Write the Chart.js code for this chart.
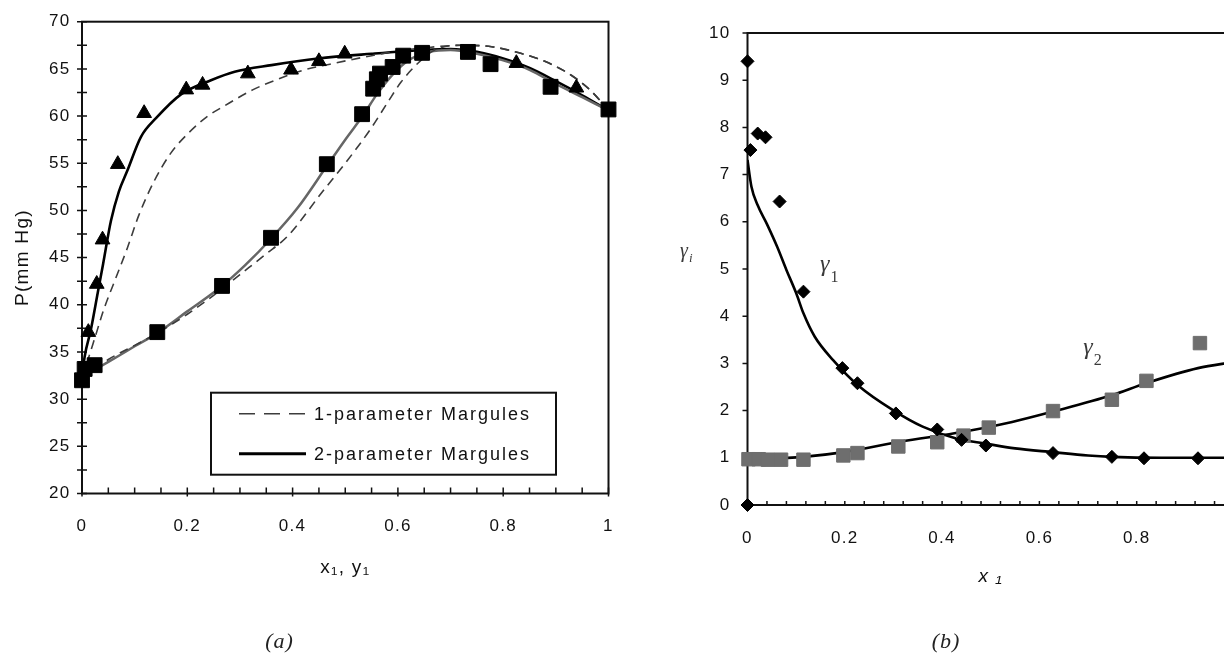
<!DOCTYPE html>
<html>
<head>
<meta charset="utf-8">
<title>Margules fits: P-x-y and activity coefficients</title>
<script src="https://cdn.jsdelivr.net/npm/chart.js@4.4.1/dist/chart.umd.min.js"></script>
<style>
  html, body { margin: 0; padding: 0; background: #fff; overflow: hidden; }
  #wrap { position: relative; width: 1224px; height: 656px; overflow: hidden; }
  #boxA { position: absolute; left: 0; top: 0; }
  #boxB { position: absolute; left: 640px; top: 0; }
</style>
</head>
<body>
<div id="wrap">
  <div id="boxA"><canvas id="chartA" width="640" height="656"></canvas></div>
  <div id="boxB"><canvas id="chartB" width="640" height="656"></canvas></div>
</div>
<script>
// ---- panel (a): P vs x1, y1 ----
// measured liquid (x1) points, squares
const liqX1 = [0, 0.005, 0.024, 0.143, 0.266, 0.359, 0.465, 0.532, 0.553, 0.56, 0.566, 0.59, 0.61, 0.646, 0.733, 0.776, 0.89, 1.0];
const liqP  = [32.0, 33.2, 33.6, 37.1, 42.0, 47.1, 54.9, 60.2, 62.9, 63.9, 64.5, 65.2, 66.4, 66.7, 66.8, 65.5, 63.1, 60.7];
// measured vapour (y1) points, triangles
const vapY1 = [0.012, 0.028, 0.039, 0.068, 0.118, 0.198, 0.229, 0.315, 0.397, 0.45, 0.499, 0.825, 0.939];
const vapP  = [37.1, 42.2, 46.9, 54.9, 60.3, 62.8, 63.3, 64.5, 64.9, 65.8, 66.6, 65.6, 63.0];

// 1-parameter Margules (dashed)
const m1DewY1 = [0, 0.012, 0.025, 0.042, 0.064, 0.086, 0.108, 0.137, 0.169, 0.204, 0.239, 0.271, 0.325, 0.372, 0.423, 0.471, 0.55, 0.6, 0.663, 0.72, 0.778, 0.83, 0.879, 0.93, 0.968, 1];
const m1DewP  = [32.3, 34.3, 36.6, 39.6, 42.8, 46.0, 49.5, 53.1, 56.1, 58.3, 60.0, 61.1, 62.8, 63.9, 64.9, 65.5, 66.4, 66.9, 67.3, 67.5, 67.35, 66.7, 65.8, 64.3, 62.6, 60.6];
const m1BubX1 = [0, 0.05, 0.1, 0.143, 0.2, 0.25, 0.3, 0.35, 0.391, 0.457, 0.5, 0.549, 0.58, 0.606, 0.638, 0.67, 0.72, 0.778, 0.83, 0.879, 0.93, 0.968, 1];
const m1BubP  = [32.3, 34.2, 35.7, 37.0, 39.0, 41.0, 43.2, 45.4, 47.3, 52.0, 55.0, 58.7, 61.4, 63.6, 65.6, 67.0, 67.5, 67.35, 66.7, 65.8, 64.3, 62.6, 60.6];

// 2-parameter Margules (solid)
const m2DewY1 = [0, 0.005, 0.017, 0.03, 0.04, 0.055, 0.07, 0.086, 0.112, 0.141, 0.188, 0.245, 0.29, 0.36, 0.448, 0.55, 0.65, 0.7, 0.75, 0.8, 0.85, 0.9, 0.95, 1];
const m2DewP  = [32.3, 34.5, 37.4, 41.3, 44.3, 48.9, 52.0, 54.2, 57.8, 59.8, 62.3, 63.8, 64.7, 65.4, 66.1, 66.6, 67.0, 67.1, 66.8, 66.1, 65.1, 63.7, 62.2, 60.6];
const m2BubX1 = [0, 0.03, 0.07, 0.1, 0.143, 0.2, 0.266, 0.31, 0.359, 0.41, 0.465, 0.5, 0.533, 0.56, 0.59, 0.62, 0.66, 0.7, 0.75, 0.8, 0.85, 0.9, 0.95, 1];
const m2BubP  = [32.3, 33.3, 34.6, 35.6, 37.0, 39.3, 42.0, 44.2, 47.0, 50.3, 54.7, 57.5, 60.0, 62.3, 64.4, 65.9, 66.8, 67.0, 66.6, 65.9, 64.9, 63.4, 62.0, 60.6];

// ---- panel (b): activity coefficients vs x1 ----
const g1X = [0, 0, 0.006, 0.021, 0.037, 0.066, 0.115, 0.195, 0.226, 0.305, 0.39, 0.44, 0.49, 0.628, 0.749, 0.815, 0.926];
const g1  = [0, 9.4, 7.52, 7.87, 7.79, 6.43, 4.52, 2.9, 2.58, 1.94, 1.6, 1.38, 1.26, 1.1, 1.02, 0.99, 0.99];
const g2X = [0.002, 0.023, 0.042, 0.069, 0.115, 0.197, 0.226, 0.31, 0.39, 0.444, 0.496, 0.628, 0.749, 0.82, 0.93];
const g2  = [0.97, 0.97, 0.96, 0.96, 0.96, 1.05, 1.1, 1.24, 1.33, 1.47, 1.64, 1.99, 2.23, 2.63, 3.43];

const fit1X = [0, 0.008, 0.021, 0.04, 0.061, 0.08, 0.1, 0.115, 0.138, 0.176, 0.23, 0.299, 0.36, 0.429, 0.49, 0.55, 0.628, 0.7, 0.749, 0.85, 1];
const fit1  = [7.31, 6.75, 6.35, 5.95, 5.47, 4.98, 4.49, 4.06, 3.57, 3.07, 2.51, 2.01, 1.66, 1.41, 1.3, 1.2, 1.12, 1.05, 1.02, 1.0, 1.0];
const fit2X = [0, 0.115, 0.198, 0.314, 0.444, 0.544, 0.628, 0.75, 0.819, 0.926, 1];
const fit2  = [0.96, 1.02, 1.12, 1.34, 1.55, 1.76, 1.98, 2.33, 2.58, 2.9, 3.03];

const SANS = '"Liberation Sans", Arial, Helvetica, sans-serif';
const SERIF = '"Liberation Serif", "Times New Roman", serif';

Chart.defaults.font.family = SANS;
Chart.defaults.font.size = 17;
Chart.defaults.color = '#111';

function pts(xs, ys) {
  return xs.map((x, i) => ({ x: x, y: ys[i] }));
}

function onStep(v, step) {
  const r = v / step;
  return Math.abs(r - Math.round(r)) < 1e-6;
}

// frame, tick marks, a bit of letter spacing like the scanned figure
const frame = {
  id: 'frame',
  beforeDraw(chart) {
    chart.ctx.letterSpacing = '1.3px';
  },
  beforeDatasetsDraw(chart, args, o) {
    const { ctx, chartArea: a, scales: { x, y } } = chart;
    ctx.save();
    ctx.strokeStyle = '#111';
    ctx.beginPath();
    x.ticks.forEach(t => {
      const px = x.getPixelForValue(t.value);
      const major = onStep(t.value, o.xMajor);
      ctx.moveTo(px, a.bottom + (major ? o.xOut : 0));
      ctx.lineTo(px, a.bottom - o.xIn);
    });
    y.ticks.forEach(t => {
      const py = y.getPixelForValue(t.value);
      ctx.moveTo(a.left - o.yOut, py);
      ctx.lineTo(a.left + o.yIn, py);
    });
    ctx.lineWidth = 1.5;
    ctx.stroke();
    ctx.lineWidth = 2;
    ctx.strokeRect(a.left, a.top, a.right - a.left, a.bottom - a.top);
    ctx.restore();
  }
};

// "(a)" / "(b)" under each panel
const caption = {
  id: 'caption',
  afterDraw(chart, args, o) {
    const { ctx, chartArea: a } = chart;
    ctx.save();
    ctx.letterSpacing = '1px';
    ctx.font = 'italic 22px ' + SERIF;
    ctx.fillStyle = '#222';
    ctx.textAlign = 'center';
    ctx.textBaseline = 'middle';
    ctx.fillText(o.text, a.left + o.dx, o.y);
    ctx.restore();
  }
};

// boxed legend inside panel (a)
const boxLegend = {
  id: 'boxLegend',
  afterDatasetsDraw(chart, args, o) {
    if (!o.items) return;
    const { ctx, chartArea: a } = chart;
    const L = a.left + o.left, T = a.top + o.top;
    ctx.save();
    ctx.fillStyle = '#fff';
    ctx.fillRect(L, T, o.width, o.height);
    ctx.lineWidth = 2;
    ctx.strokeStyle = '#111';
    ctx.strokeRect(L, T, o.width, o.height);
    o.items.forEach((it, i) => {
      const ds = chart.data.datasets[it.index];
      const yy = T + o.rowTop + i * o.rowGap;
      ctx.beginPath();
      ctx.setLineDash(it.dash || []);
      ctx.strokeStyle = ds.borderColor;
      ctx.lineWidth = it.width;
      ctx.moveTo(L + 28, yy);
      ctx.lineTo(L + 95, yy);
      ctx.stroke();
      ctx.setLineDash([]);
      ctx.fillStyle = '#111';
      ctx.font = '18px ' + SANS;
      ctx.letterSpacing = '2px';
      ctx.textAlign = 'left';
      ctx.textBaseline = 'middle';
      ctx.fillText(ds.label, L + 103, yy + 1);
    });
    ctx.restore();
  }
};

function drawGamma(ctx, x, y, sub, size, subItalic, subDrop) {
  ctx.font = 'italic ' + size + 'px ' + SERIF;
  ctx.textAlign = 'left';
  ctx.textBaseline = 'alphabetic';
  ctx.fillText('γ', x, y);
  const w = ctx.measureText('γ').width;
  ctx.font = (subItalic ? 'italic ' : '') + Math.round(size * 0.66) + 'px ' + SERIF;
  ctx.fillText(sub, x + w + 1, y + subDrop);
}

// gamma labels of panel (b)
const gammaText = {
  id: 'gammaText',
  afterDatasetsDraw(chart, args, o) {
    if (!o.items) return;
    const { ctx, chartArea: a, scales: { x, y } } = chart;
    ctx.save();
    ctx.letterSpacing = '0px';
    ctx.fillStyle = '#3a3a3a';
    o.items.forEach(it => {
      drawGamma(ctx, x.getPixelForValue(it.x), y.getPixelForValue(it.y), it.sub, 24, false, 11);
    });
    drawGamma(ctx, a.left + o.titleDx, a.top + o.titleDy, 'i', 20, true, 5);
    ctx.restore();
  }
};

const tickFmt = v => String(Math.round(v * 10) / 10);

const chartA = new Chart(document.getElementById('chartA'), {
  type: 'scatter',
  data: {
    datasets: [
      { label: 'P-x1 data', data: pts(liqX1, liqP), pointStyle: 'rect', pointRadius: 10.5,
        backgroundColor: '#000', borderColor: '#000', borderWidth: 1, clip: false, order: 1 },
      { label: 'P-y1 data', data: pts(vapY1, vapP), pointStyle: 'triangle', pointRadius: 8.5,
        backgroundColor: '#000', borderColor: '#000', borderWidth: 1, clip: false, order: 1 },
      { label: '1-parameter Margules', data: pts(m1DewY1, m1DewP), showLine: true, pointRadius: 0,
        borderColor: '#3c3c3c', borderWidth: 1.6, borderDash: [9, 6], cubicInterpolationMode: 'monotone', order: 2 },
      { label: '1-parameter Margules (x1)', data: pts(m1BubX1, m1BubP), showLine: true, pointRadius: 0,
        borderColor: '#3c3c3c', borderWidth: 1.6, borderDash: [9, 6], cubicInterpolationMode: 'monotone', order: 2 },
      { label: '2-parameter Margules (x1)', data: pts(m2BubX1, m2BubP), showLine: true, pointRadius: 0,
        borderColor: '#666', borderWidth: 2.5, cubicInterpolationMode: 'monotone', order: 2 },
      { label: '2-parameter Margules', data: pts(m2DewY1, m2DewP), showLine: true, pointRadius: 0,
        borderColor: '#000', borderWidth: 2.6, cubicInterpolationMode: 'monotone', order: 2 }
    ]
  },
  options: {
    responsive: false,
    animation: false,
    events: [],
    layout: { padding: { left: 0, top: 20, right: 31.5, bottom: 0 } },
    plugins: {
      legend: { display: false },
      tooltip: { enabled: false },
      frame: { xMajor: 0.2, xIn: 6, xOut: 3, yIn: 5, yOut: 5 },
      caption: { text: '(a)', dx: 197.5, y: 642 },
      boxLegend: {
        left: 129, top: 371, width: 345, height: 82, rowTop: 21, rowGap: 40,
        items: [
          { index: 2, dash: [16, 9], width: 1.6 },
          { index: 5, width: 3 }
        ]
      }
    },
    scales: {
      x: {
        type: 'linear', min: 0, max: 1,
        afterFit: s => { s.height = 162.5; },
        grid: { display: false, drawTicks: false },
        border: { display: false },
        ticks: { stepSize: 0.05, autoSkip: false, maxRotation: 0, padding: 23,
          callback: v => onStep(v, 0.2) ? tickFmt(v) : '' },
        title: { display: true, text: 'x₁, y₁', font: { size: 19 }, padding: { top: 0, bottom: 76.6 } }
      },
      y: {
        type: 'linear', min: 20, max: 70,
        afterFit: s => { s.width = 82; },
        grid: { display: false, drawTicks: false },
        border: { display: false },
        ticks: { stepSize: 2.5, autoSkip: false, padding: 11.5,
          callback: v => onStep(v, 5) ? String(v) : '' },
        title: { display: true, text: 'P(mm Hg)', font: { size: 19 }, padding: { top: 11.6, bottom: 0 } }
      }
    }
  },
  plugins: [frame, caption, boxLegend]
});

const chartB = new Chart(document.getElementById('chartB'), {
  type: 'scatter',
  data: {
    datasets: [
      { label: 'γ1 data', data: pts(g1X, g1), pointStyle: 'rectRot', pointRadius: 6.5,
        backgroundColor: '#000', borderColor: '#000', borderWidth: 1, clip: false, order: 1 },
      { label: 'γ2 data', data: pts(g2X, g2), pointStyle: 'rect', pointRadius: 9.5,
        backgroundColor: '#6e6e6e', borderColor: '#6e6e6e', borderWidth: 1, clip: false, order: 1 },
      { label: 'γ1 fit', data: pts(fit1X, fit1), showLine: true, pointRadius: 0,
        borderColor: '#000', borderWidth: 2.6, cubicInterpolationMode: 'monotone', order: 2 },
      { label: 'γ2 fit', data: pts(fit2X, fit2), showLine: true, pointRadius: 0,
        borderColor: '#000', borderWidth: 2.6, cubicInterpolationMode: 'monotone', order: 2 }
    ]
  },
  options: {
    responsive: false,
    animation: false,
    events: [],
    layout: { padding: { left: 0, top: 33, right: 46, bottom: 0 } },
    plugins: {
      legend: { display: false },
      tooltip: { enabled: false },
      frame: { xMajor: 0.2, xIn: 4, xOut: 0, yIn: 0, yOut: 5 },
      caption: { text: '(b)', dx: 198.5, y: 642 },
      gammaText: {
        items: [
          { x: 0.149, y: 4.96, sub: '1' },
          { x: 0.69, y: 3.2, sub: '2' }
        ],
        titleDx: -67.5, titleDy: 224
      }
    },
    scales: {
      x: {
        type: 'linear', min: 0, max: 1,
        afterFit: s => { s.height = 151; },
        grid: { display: false, drawTicks: false },
        border: { display: false },
        ticks: { stepSize: 0.04, autoSkip: false, maxRotation: 0, padding: 23,
          callback: v => onStep(v, 0.2) ? tickFmt(v) : '' },
        title: { display: true, text: 'x ₁', font: { size: 19, style: 'italic' }, padding: { top: 0, bottom: 67.6 } }
      },
      y: {
        type: 'linear', min: 0, max: 10,
        afterFit: s => { s.width = 107.5; },
        grid: { display: false, drawTicks: false },
        border: { display: false },
        ticks: { stepSize: 1, autoSkip: false, padding: 17 }
      }
    }
  },
  plugins: [frame, caption, gammaText]
});
</script>
</body>
</html>
